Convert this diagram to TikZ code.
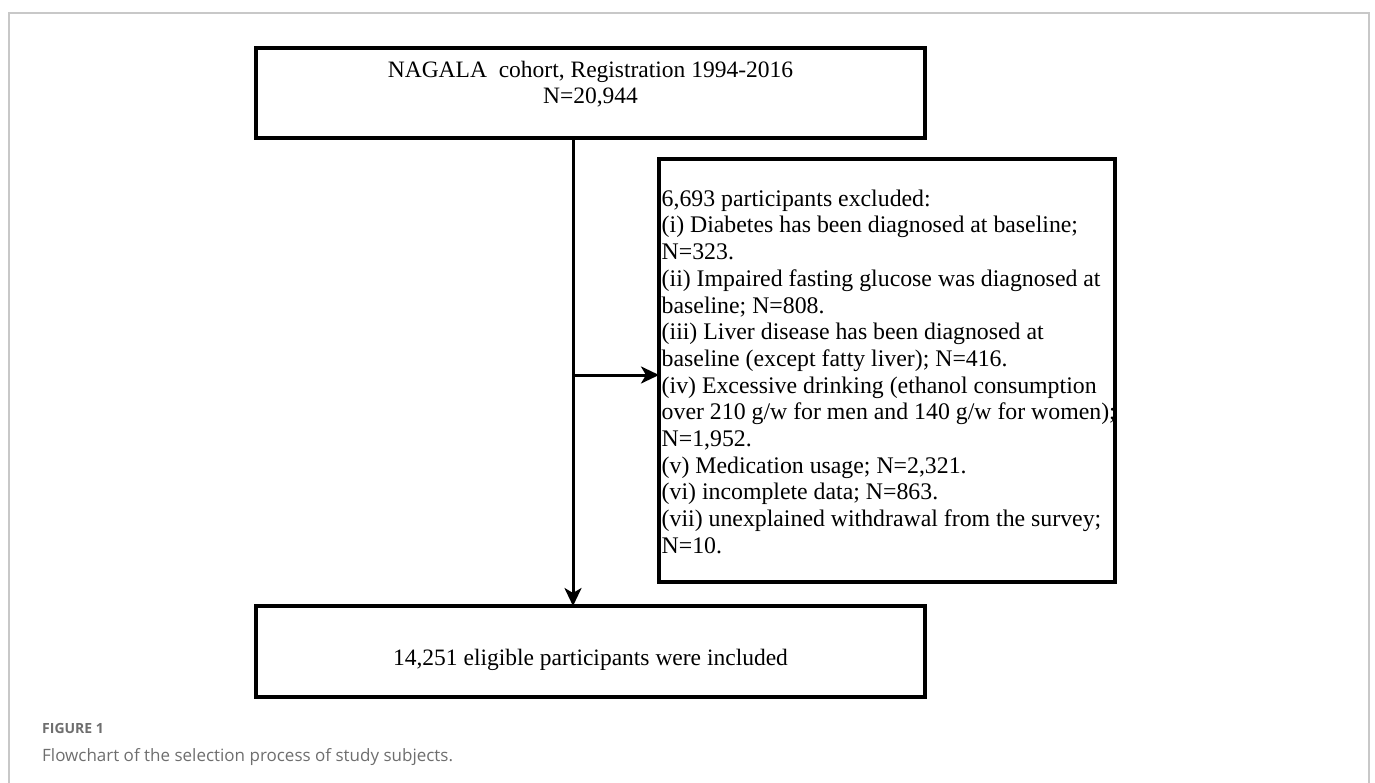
\documentclass[tikz,border=0pt]{standalone}
\usepackage{fontspec}
\setmainfont{Liberation Serif}
\newfontfamily\capfont{Open Sans}
\usetikzlibrary{arrows.meta,calc}
\definecolor{framegray}{HTML}{C8C8C8}
\definecolor{capgray}{HTML}{6E6E6E}
\begin{document}
\begin{tikzpicture}[x=1pt,y=-1pt,
  box/.style={draw=black, line width=3.5pt, rectangle, inner sep=0pt, outer sep=0pt},
  txt/.style={font=\fontsize{23.5}{26.7}\selectfont, inner sep=0pt},
  arr/.style={line width=3pt, -{Stealth[length=18pt,width=17pt,inset=5pt]}},
  caplab/.style={anchor=base west, inner sep=0pt, text=capgray}
  ]
\useasboundingbox (0,0) rectangle (1375,783);
\draw[framegray, line width=1.5pt] (9,790) -- (9,13) -- (1369,13) -- (1369,790);

\node[box, minimum width=669pt, minimum height=90pt] (top) at (590.5,93) {};
\node[txt, anchor=north, align=center] (toptext) at (590.5,59)
  {\rule{0pt}{18pt}NAGALA\ \ cohort, Registration 1994-2016\\N=20,944};

\node[box, minimum width=456pt, minimum height=423pt] (rbox) at (887,370.5) {};
\node[txt, font=\fontsize{23.8}{26.7}\selectfont, anchor=north west, align=left] (rtext) at (661.5,188)
  {\rule{0pt}{18pt}6,693 participants excluded:\\
   (i) Diabetes has been diagnosed at baseline;\\
   N=323.\\
   (ii) Impaired fasting glucose was diagnosed at\\
   baseline; N=808.\\
   (iii) Liver disease has been diagnosed at\\
   baseline (except fatty liver); N=416.\\
   (iv) Excessive drinking (ethanol consumption\\
   over 210 g/w for men and 140 g/w for women);\\
   N=1,952.\\
   (v) Medication usage; N=2,321.\\
   (vi) incomplete data; N=863.\\
   (vii) unexplained withdrawal from the survey;\\
   N=10.};

\node[box, minimum width=669pt, minimum height=91pt] (bot) at (590.5,651.5) {};
\node[txt, anchor=base] (bottext) at (590.5,665) {14,251 eligible participants were included};

\coordinate (vx) at (573,137);
\coordinate (jn) at (573,375);
\draw[arr] (top.south -| vx) -- (bot.north -| vx);
\draw[arr] (jn) -- (jn -| rbox.west);

\node[caplab, font=\capfont\bfseries\fontsize{14}{16}\selectfont] (figlab) at (42,733) {FIGURE 1};
\node[caplab, font=\capfont\fontsize{17}{20}\selectfont] (figcap) at (42,761) {Flowchart of the selection process of study subjects.};
\end{tikzpicture}
\end{document}
